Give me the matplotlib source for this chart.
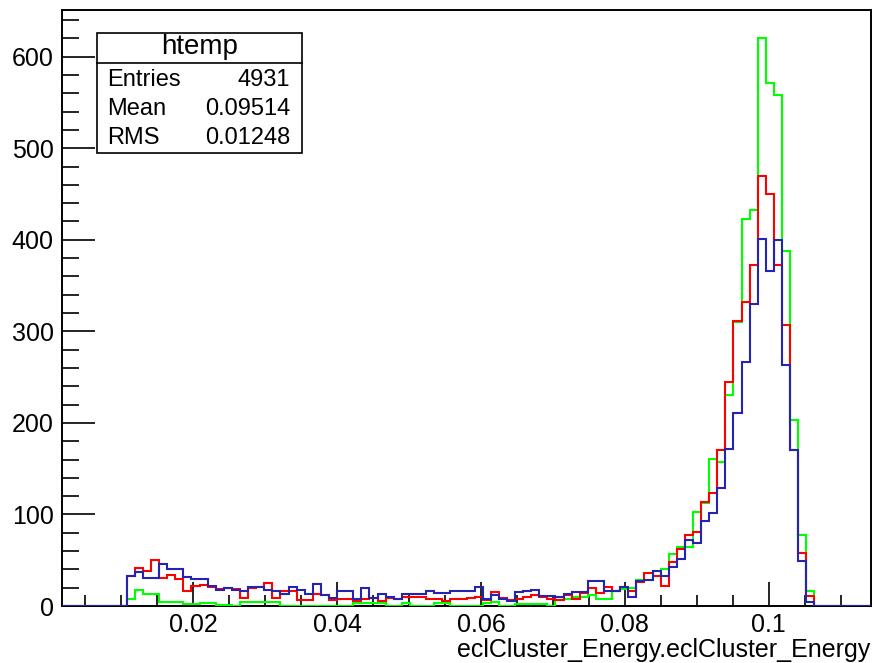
import numpy as np
import matplotlib
matplotlib.use("Agg")
import matplotlib.pyplot as plt
from matplotlib.ticker import MultipleLocator, FixedLocator, FuncFormatter

plt.rcParams['font.family'] = ['Liberation Sans', 'DejaVu Sans']

# 100 bins of eclCluster_Energy, three selections drawn on top of each other
xmin, xmax, nbins = 0.0018, 0.1142, 100

green_counts = ([0] * 8 +
    [8, 17, 13, 13, 4, 4, 4, 2, 2, 3, 3, 1, 1, 0, 4, 4, 4, 4, 4, 0, 0, 0, 0, 0, 0, 0, 0, 0, 3, 3, 3, 3] +
    [0, 0, 3, 0, 0, 0, 3, 3, 0, 0, 0, 0, 3, 4, 0, 0, 2, 2, 2, 2, 0, 7, 8, 10, 10, 12, 8, 8, 16, 19, 20, 28] +
    [28, 38, 40, 57, 64, 64, 103, 113, 161, 157, 231, 310, 423, 432, 620, 571, 558, 388, 203, 78, 16] +
    [0] * 7)

red_counts = ([0] * 8 +
    [33, 42, 38, 50, 31, 34, 29, 16, 22, 23, 21, 19, 20, 19, 9, 20, 21, 25, 9, 16, 16, 7, 7, 13, 12, 7, 8, 8, 5, 8, 9, 5] +
    [9, 8, 10, 10, 10, 8, 8, 5, 8, 8, 9, 10, 7, 15, 9, 7, 8, 10, 12, 10, 8, 7, 12, 8, 14, 20, 14, 21, 16, 21, 16, 26] +
    [36, 33, 22, 48, 62, 78, 81, 114, 123, 170, 245, 311, 332, 373, 470, 450, 372, 307, 170, 58, 11] +
    [0] * 7)

blue_counts = ([0] * 8 +
    [33, 37, 31, 31, 46, 40, 40, 32, 29, 29, 22, 17, 20, 17, 16, 21, 21, 17, 16, 13, 21, 17, 13, 24, 12, 9, 16, 16, 8, 20, 9, 13] +
    [10, 8, 13, 13, 13, 16, 14, 14, 16, 16, 16, 21, 8, 12, 8, 5, 15, 16, 18, 11, 11, 10, 13, 15, 15, 27, 27, 16, 16, 21, 10, 27] +
    [28, 38, 33, 43, 51, 72, 69, 93, 102, 129, 171, 211, 266, 330, 401, 366, 400, 263, 170, 49, 4] +
    [0] * 7)

stats_labels = ["Entries", "Mean", "RMS"]
stats_values = ["4931", "0.09514", "0.01248"]
x_ticks = [0.02, 0.04, 0.06, 0.08, 0.1]

edges = np.linspace(xmin, xmax, nbins + 1)

fig = plt.figure(figsize=(8.74, 6.63), dpi=100)
ax = fig.add_axes([62 / 874, 57 / 663, 809 / 874, 596 / 663])

# drawn above the frame so the empty bins show along the bottom edge
ax.stairs(green_counts, edges, color='#00ff00', lw=1.5, zorder=3)
ax.stairs(red_counts, edges, color='#ff0000', lw=1.5, zorder=3)
ax.stairs(blue_counts, edges, color='#2424b0', lw=1.5, zorder=3)

ax.set_xlim(xmin, xmax)
ax.set_ylim(0, 1.05 * max(green_counts))

ax.xaxis.set_major_locator(FixedLocator(x_ticks))
ax.xaxis.set_minor_locator(MultipleLocator(0.005))
ax.xaxis.set_major_formatter(FuncFormatter(lambda v, p: f"{v:g}"))
ax.yaxis.set_major_locator(MultipleLocator(100))
ax.yaxis.set_minor_locator(MultipleLocator(20))

ax.tick_params(axis='both', which='both', direction='in', top=False, right=False,
               labelsize=18, colors='black', width=1.2)
ax.tick_params(axis='x', which='major', length=17, pad=5)
ax.tick_params(axis='x', which='minor', length=8)
ax.tick_params(axis='y', which='major', length=24, pad=6)
ax.tick_params(axis='y', which='minor', length=12)
for s in ax.spines.values():
    s.set_linewidth(1.4)

fig.text(870 / 874, 1 - 650 / 663, "eclCluster_Energy.eclCluster_Energy",
         ha='right', va='center', fontsize=18)

# statistics box
bx0, bx1, by0, by1, bh = 97, 302, 33, 153, 63
box = plt.Rectangle((bx0 / 874, 1 - by1 / 663), (bx1 - bx0) / 874, (by1 - by0) / 663,
                    transform=fig.transFigure, fc='white', ec='black', lw=1.2, zorder=5)
fig.add_artist(box)
fig.add_artist(plt.Line2D([bx0 / 874, bx1 / 874], [1 - bh / 663, 1 - bh / 663],
                          transform=fig.transFigure, color='black', lw=1.2, zorder=6))
fig.text((bx0 + bx1) / 2 / 874, 1 - 47 / 663, "htemp", ha='center', va='center',
         fontsize=20, zorder=7)
for i, (lab, val) in enumerate(zip(stats_labels, stats_values)):
    y = 1 - (80 + i * 29) / 663
    fig.text(107 / 874, y, lab, ha='left', va='center', fontsize=17, zorder=7)
    fig.text(290 / 874, y, val, ha='right', va='center', fontsize=17, zorder=7)

fig.savefig("out.png", dpi=100)
